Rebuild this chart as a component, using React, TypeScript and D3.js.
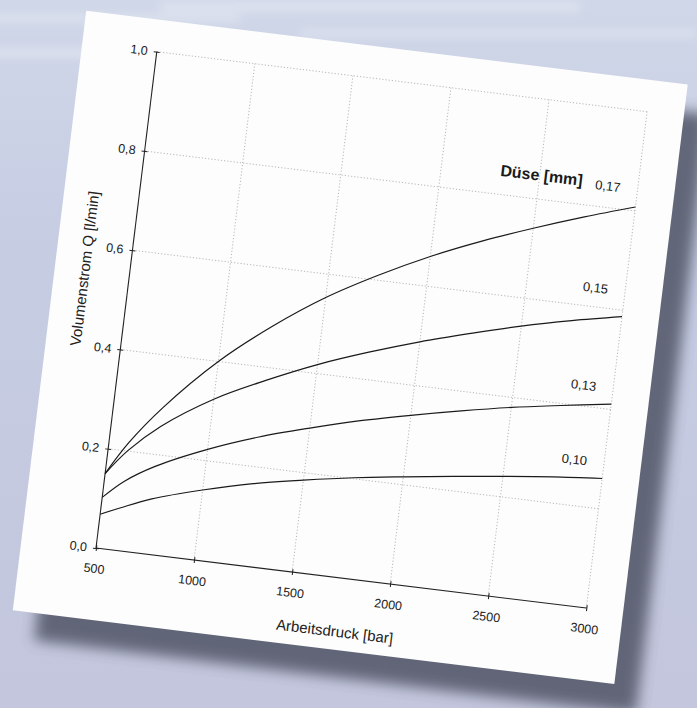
import React, { useRef, useEffect } from 'react';
import * as d3 from 'd3';

// Arbeitsdruck [bar] und Volumenstrom Q [l/min] je Düse
const pressures = [500, 600, 750, 1000, 1250, 1500, 1750, 2000, 2250, 2500, 2750, 3000];
const nozzles = ['0,17', '0,15', '0,13', '0,10'];
const flow017 = [0.15, 0.217, 0.295, 0.4, 0.483, 0.553, 0.61, 0.66, 0.703, 0.741, 0.776, 0.808];
const flow015 = [0.15, 0.201, 0.257, 0.324, 0.374, 0.418, 0.455, 0.488, 0.517, 0.544, 0.567, 0.587];
const flow013 = [0.102, 0.139, 0.177, 0.223, 0.26, 0.29, 0.317, 0.34, 0.361, 0.38, 0.396, 0.411];
const flow010 = [0.068, 0.086, 0.111, 0.141, 0.166, 0.185, 0.202, 0.216, 0.229, 0.241, 0.252, 0.261];
const labelFlow = [0.834, 0.629, 0.433, 0.283];
const xTicks = [500, 1000, 1500, 2000, 2500, 3000];
const yTicks = [0, 0.2, 0.4, 0.6, 0.8, 1.0];

const W = 697;
const H = 708;
const FONT = 'Arial, "Liberation Sans", sans-serif';

export default function App() {
  const svgRef = useRef<SVGSVGElement>(null);

  useEffect(() => {
    const svg = d3.select(svgRef.current).attr('viewBox', `0 0 ${W} ${H}`);
    svg.selectAll('*').remove();

    const defs = svg.append('defs');
    const bg = defs.append('linearGradient').attr('id', 'bg').attr('x1', 0).attr('y1', 0).attr('x2', 0).attr('y2', 1);
    bg.append('stop').attr('offset', '0%').attr('stop-color', '#d0d7e8');
    bg.append('stop').attr('offset', '35%').attr('stop-color', '#c6cde3');
    bg.append('stop').attr('offset', '100%').attr('stop-color', '#c3c6dc');
    defs.append('filter').attr('id', 'blur').attr('x', '-20%').attr('y', '-20%').attr('width', '140%').attr('height', '140%')
      .append('feGaussianBlur').attr('stdDeviation', 7);
    defs.append('filter').attr('id', 'soft').attr('x', '-20%').attr('y', '-50%').attr('width', '140%').attr('height', '200%')
      .append('feGaussianBlur').attr('stdDeviation', 4);

    // Hintergrund
    svg.append('rect').attr('width', W).attr('height', H).attr('fill', 'url(#bg)');
    const streaks = svg.append('g').attr('filter', 'url(#soft)').attr('fill', '#e4e9f2').attr('opacity', 0.6);
    streaks.append('rect').attr('x', -20).attr('y', 14).attr('width', 260).attr('height', 8);
    streaks.append('rect').attr('x', 160).attr('y', 2).attr('width', 420).attr('height', 10);
    streaks.append('rect').attr('x', -20).attr('y', 48).attr('width', 110).attr('height', 10);
    streaks.append('rect').attr('x', 300).attr('y', 30).attr('width', 397).attr('height', 7);

    // Blatt, leicht gedreht
    const g = svg.append('g').attr('transform', 'translate(96,548) rotate(6.98)');
    g.append('rect')
      .attr('x', -50).attr('y', -505).attr('width', 606).attr('height', 604)
      .attr('fill', '#4a4e5e').attr('opacity', 0.8).attr('filter', 'url(#blur)');
    g.append('rect')
      .attr('x', -75).attr('y', -532).attr('width', 606).attr('height', 604)
      .attr('fill', '#fdfdfd');

    const x = d3.scaleLinear().domain([500, 3000]).range([0, 494]);
    const y = d3.scaleLinear().domain([0, 1]).range([0, -500]);
    const de = d3.formatLocale({ decimal: ',', thousands: '.', grouping: [3], currency: ['', '€'] });
    const fmtY = de.format('.1f');

    // Gitter
    const grid = g.append('g').attr('stroke', '#a9a9a9').attr('stroke-width', 0.8).attr('stroke-dasharray', '1.2,2');
    grid.selectAll('line.v').data(xTicks.slice(1)).join('line')
      .attr('x1', d => x(d)).attr('x2', d => x(d)).attr('y1', y(0)).attr('y2', y(1));
    grid.selectAll('line.h').data(yTicks.slice(1)).join('line').attr('class', 'h')
      .attr('x1', x(500)).attr('x2', x(3000)).attr('y1', d => y(d)).attr('y2', d => y(d));

    // Achsen
    const xAxis = g.append('g')
      .call(d3.axisBottom(x).tickValues(xTicks).tickSize(3).tickPadding(13).tickFormat(d3.format('d')));
    xAxis.selectAll('.tick line').attr('y1', -3);
    const yAxis = g.append('g')
      .call(d3.axisLeft(y).tickValues(yTicks).tickSize(3).tickPadding(6).tickFormat(d => fmtY(d as number)));
    yAxis.selectAll('.tick line').attr('x1', 3);
    [xAxis, yAxis].forEach(a => {
      a.select('.domain').attr('stroke', '#222').attr('stroke-width', 1.1);
      a.selectAll('.tick line').attr('stroke', '#222');
      a.selectAll('text').attr('font-family', FONT).attr('font-size', 12.5).attr('fill', '#222');
    });
    xAxis.select('.domain').attr('d', `M${x(500)},0H${x(3000)}`);
    yAxis.select('.domain').attr('d', `M0,${y(0)}V${y(1)}`);

    // Kurven
    const series = [flow017, flow015, flow013, flow010];
    const line = d3.line<number>()
      .x((_, i) => x(pressures[i]))
      .y(d => y(d))
      .curve(d3.curveCatmullRom.alpha(0.5));
    g.append('g').selectAll('path').data(series).join('path')
      .attr('d', d => line(d))
      .attr('fill', 'none').attr('stroke', '#1a1a1a').attr('stroke-width', 1.2);

    g.append('g').selectAll('text').data(nozzles).join('text')
      .attr('x', x(2785)).attr('y', (_, i) => y(labelFlow[i]))
      .attr('font-family', FONT).attr('font-size', 13).attr('fill', '#222')
      .text(d => d);
    g.append('text')
      .attr('x', x(2300)).attr('y', y(0.837))
      .attr('font-family', FONT).attr('font-size', 16).attr('font-weight', 'bold').attr('fill', '#1a1a1a')
      .text('Düse [mm]');

    // Achsentitel
    g.append('text')
      .attr('x', x(1750)).attr('y', 59).attr('text-anchor', 'middle')
      .attr('font-family', FONT).attr('font-size', 15).attr('fill', '#222')
      .text('Arbeitsdruck [bar]');
    g.append('text')
      .attr('transform', `translate(-40,${y(0.552)}) rotate(-90)`).attr('text-anchor', 'middle')
      .attr('font-family', FONT).attr('font-size', 15).attr('fill', '#222')
      .text('Volumenstrom Q [l/min]');
  }, []);

  return (
    <svg
      ref={svgRef}
      width={W}
      height={H}
      style={{ position: 'absolute', left: 0, top: 0, display: 'block' }}
    />
  );
}
